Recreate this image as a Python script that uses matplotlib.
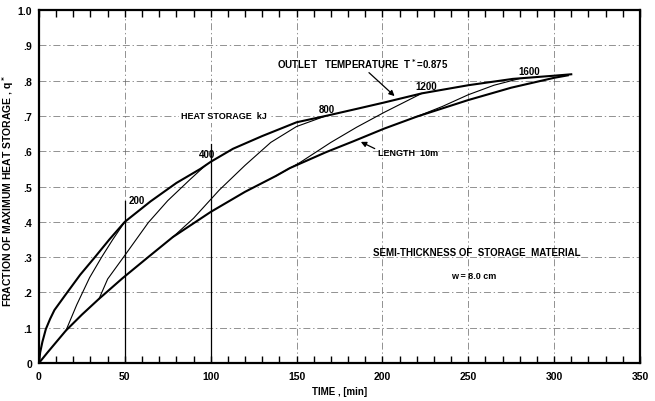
import matplotlib
matplotlib.use('Agg')
import matplotlib.pyplot as plt
from matplotlib.ticker import MultipleLocator

plt.rcParams['font.family'] = ['Liberation Sans', 'DejaVu Sans']
plt.rcParams['font.weight'] = 'bold'
plt.rcParams['axes.labelweight'] = 'bold'
plt.rcParams['mathtext.default'] = 'bf'

# outlet temperature T*=0.875 envelope (heat storage curve)
t_outlet = [0, 0.7, 2, 4, 6.5, 9, 15.7, 24, 32.6, 41, 50, 65, 80, 94, 100, 113,
            130, 150, 167, 185, 201, 223, 250, 276, 300, 310]
q_outlet = [0, 0.03, 0.06, 0.096, 0.125, 0.15, 0.195, 0.25, 0.30, 0.35, 0.40,
            0.458, 0.51, 0.55, 0.57, 0.607, 0.643, 0.682, 0.70, 0.72, 0.738,
            0.764, 0.787, 0.805, 0.814, 0.818]

# storage length 10 m
t_length = [0, 5, 15.7, 25, 35, 48.6, 63.6, 78, 100, 120, 138, 146, 167, 183, 201,
            220, 250, 275, 300, 308]
q_length = [0, 0.03, 0.092, 0.137, 0.182, 0.24, 0.30, 0.357, 0.428, 0.485, 0.53,
            0.552, 0.597, 0.628, 0.664, 0.698, 0.745, 0.78, 0.808, 0.815]

# constant heat storage lines, kJ
storage_kj = [200, 400, 800, 1200, 1600]
t_storage = [
    [15.7, 22, 29.5, 36.5, 43, 50],
    [35, 40, 50, 63.7, 75, 88, 97],
    [78, 90, 105, 120, 135, 150, 167],
    [138, 152, 170, 185, 201, 223],
    [220, 235, 250, 265, 280],
]
q_storage = [
    [0.092, 0.165, 0.242, 0.30, 0.35, 0.40],
    [0.182, 0.238, 0.305, 0.398, 0.46, 0.52, 0.56],
    [0.357, 0.41, 0.49, 0.56, 0.625, 0.67, 0.70],
    [0.53, 0.568, 0.625, 0.668, 0.71, 0.764],
    [0.698, 0.727, 0.76, 0.787, 0.806],
]
label_pos = [(52, 0.462), (93, 0.592), (163, 0.72), (219, 0.786), (279, 0.828)]

x_ticks = [0, 50, 100, 150, 200, 250, 300, 350]
y_ticks = [0, 0.1, 0.2, 0.3, 0.4, 0.5, 0.6, 0.7, 0.8, 0.9, 1.0]
y_tick_labels = ['0', '.1', '.2', '.3', '.4', '.5', '.6', '.7', '.8', '.9', '1.0']

fig = plt.figure(figsize=(6.55, 4.02), dpi=100)
ax = fig.add_axes([0.0595, 0.0945, 0.9175, 0.878])

ax.set_xlim(0, 350)
ax.set_ylim(0, 1.0)
ax.set_xticks(x_ticks)
ax.set_yticks(y_ticks)
ax.set_yticklabels(y_tick_labels)
ax.xaxis.set_minor_locator(MultipleLocator(10))

ax.tick_params(axis='x', which='both', direction='in', top=True, bottom=True,
               length=5, width=1.0, labelsize=7.5, pad=6)
ax.tick_params(axis='y', which='both', length=0, labelsize=7.5, pad=5)
for s in ax.spines.values():
    s.set_linewidth(1.6)

ax.grid(True, which='major', color='#666666', linewidth=0.5,
        linestyle=(0, (10, 4, 2, 4)))

# solid drop lines at the first two storage points
ax.plot([50, 50], [0, 0.46], color='black', lw=0.9)
ax.plot([100, 100], [0, 0.62], color='black', lw=0.9)

ax.plot(t_outlet, q_outlet, color='black', lw=1.5)
ax.plot(t_length, q_length, color='black', lw=1.5)
for t, q in zip(t_storage, q_storage):
    ax.plot(t, q, color='black', lw=0.8)

for kj, (x, y) in zip(storage_kj, label_pos):
    ax.text(x, y, str(kj), fontsize=7, ha='left', va='center')

ax.text(138.6, 0.85, 'OUTLET   TEMPERATURE  T$^*$=0.875', fontsize=7,
        ha='left', va='center')
ax.annotate('', xy=(208.3, 0.751), xytext=(191, 0.828),
            arrowprops=dict(arrowstyle='-|>', color='black', lw=0.9,
                            mutation_scale=8))

ax.text(83, 0.70, 'HEAT STORAGE  kJ', fontsize=6.5, ha='left', va='center',
        bbox=dict(facecolor='white', edgecolor='none', pad=1.5))

ax.text(197.5, 0.596, 'LENGTH  10m', fontsize=6.5, ha='left', va='center')
ax.annotate('', xy=(186, 0.63), xytext=(197, 0.604),
            arrowprops=dict(arrowstyle='-|>', color='black', lw=0.9,
                            mutation_scale=8))

ax.text(255, 0.314, 'SEMI-THICKNESS OF  STORAGE  MATERIAL', fontsize=7,
        ha='center', va='center')
ax.text(253, 0.249, 'w = 8.0 cm', fontsize=6.5, ha='center', va='center')

ax.set_xlabel('TIME , [min]', fontsize=7, labelpad=3)
ax.set_ylabel('FRACTION OF MAXIMUM HEAT STORAGE , q$^*$', fontsize=7.5)
ax.yaxis.set_label_coords(-0.039, 0.49)

fig.savefig('out.png', dpi=100)
